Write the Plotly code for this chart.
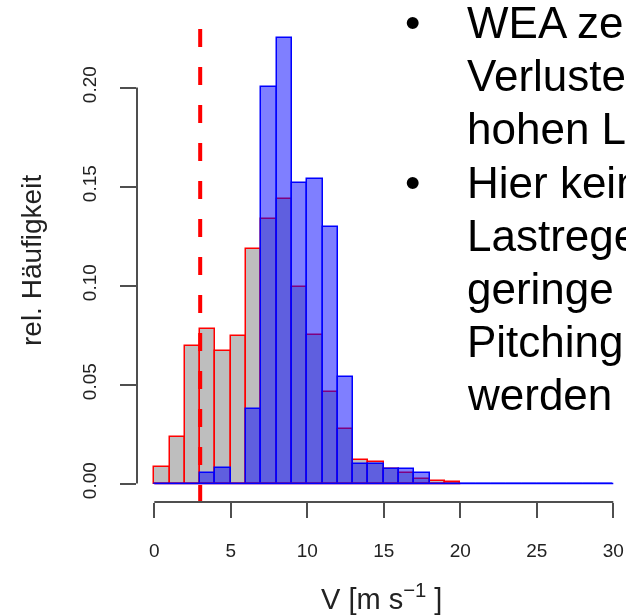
import plotly.graph_objects as go

# ---- data -------------------------------------------------------------
# relative frequencies per 1 m/s wind-speed bin
bin_edges_gray = list(range(0, 21))
freq_gray = [0.0085, 0.0233, 0.0694, 0.0782, 0.0671, 0.0745, 0.1183, 0.1334,
             0.1437, 0.0994, 0.0750, 0.0462, 0.0277, 0.0119, 0.0109, 0.0074,
             0.0055, 0.0024, 0.0011, 0.0008]

bin_edges_blue = list(range(0, 31))
freq_blue = [0.0, 0.0, 0.0, 0.0055, 0.0077, 0.0, 0.0374, 0.2004, 0.2248,
             0.1516, 0.1536, 0.1297, 0.0539, 0.0098, 0.0098, 0.0075, 0.0075,
             0.0052, 0.0, 0.0, 0.0, 0.0, 0.0, 0.0, 0.0, 0.0, 0.0, 0.0, 0.0, 0.0]

cut_in_speed = 3.0  # dashed reference line

x_ticks = [0, 5, 10, 15, 20, 25, 30]
y_ticks = [0.00, 0.05, 0.10, 0.15, 0.20]
y_tick_labels = ["0.00", "0.05", "0.10", "0.15", "0.20"]

x_title = "V [m s<sup>\u22121</sup> ]"
y_title = "rel. H\u00e4ufigkeit"

text_lines = ["WEA zeigt", "Verlusten", "hohen Last", "Hier kein",
              "Lastregelung", "geringe", "Pitching", "werden"]
bullet_rows = [0, 3]

# ---- layout geometry --------------------------------------------------
W, H = 626, 615
ML, MR, MT, MB = 137, 0, 20, 113
PW, PH = W - ML - MR, H - MT - MB
x_range = [-1.13, 30.83]
y_range = [-0.00934, 0.2341]

FONT = "Liberation Sans, Arial, Helvetica, sans-serif"
TEXT_SIZE = 44
LINE_STEP = 53.2      # px between text baselines
FIRST_MID = 22.5      # px, vertical middle of first text line


def px_x(px):
    return (px - ML) / PW


def px_y(py):
    return (H - MB - py) / PH


def centers(edges):
    return [(a + b) / 2 for a, b in zip(edges[:-1], edges[1:])]


def widths(edges):
    return [b - a for a, b in zip(edges[:-1], edges[1:])]


fig = go.Figure()

fig.add_trace(go.Bar(
    x=centers(bin_edges_gray), y=freq_gray, width=widths(bin_edges_gray),
    marker=dict(color="#BEBEBE", line=dict(color="#FF0000", width=1.5)),
    showlegend=False, hoverinfo="skip",
))
fig.add_trace(go.Bar(
    x=centers(bin_edges_blue), y=freq_blue, width=widths(bin_edges_blue),
    marker=dict(color="rgba(0,0,255,0.5)", line=dict(color="#0000FF", width=1.5)),
    showlegend=False, hoverinfo="skip",
))
# bottom outline of each histogram (also covers empty bins)
fig.add_trace(go.Scatter(
    x=[bin_edges_gray[0], bin_edges_gray[-1]], y=[0, 0], mode="lines",
    line=dict(color="#FF0000", width=1.5), showlegend=False, hoverinfo="skip",
))
fig.add_trace(go.Scatter(
    x=[bin_edges_blue[0], bin_edges_blue[-1]], y=[0, 0], mode="lines",
    line=dict(color="#0000FF", width=1.5), showlegend=False, hoverinfo="skip",
))

shapes = [
    # dashed reference line
    dict(type="line", xref="x", yref="paper", x0=cut_in_speed, x1=cut_in_speed,
         y0=px_y(29), y1=0, line=dict(color="#FF0000", width=4, dash="18px,20px")),
    # R-style axis lines spanning first to last tick
    dict(type="line", xref="paper", yref="y", x0=0, x1=0,
         y0=y_ticks[0], y1=y_ticks[-1], line=dict(color="#505050", width=2)),
    dict(type="line", xref="x", yref="paper", x0=x_ticks[0], x1=x_ticks[-1],
         y0=0, y1=0, line=dict(color="#505050", width=2)),
]

annotations = [
    dict(text=y_title, xref="paper", yref="paper", x=px_x(31), y=0.5,
         textangle=-90, showarrow=False, xanchor="center", yanchor="middle",
         font=dict(family=FONT, size=28, color="#222")),
    dict(text=x_title, xref="paper", yref="paper", x=0.5, y=px_y(597),
         showarrow=False, xanchor="center", yanchor="middle",
         font=dict(family=FONT, size=29, color="#222")),
]

# bullet text block on the right
for i, line in enumerate(text_lines):
    mid = FIRST_MID + i * LINE_STEP
    annotations.append(dict(
        text=line, xref="paper", yref="paper", x=px_x(465), y=px_y(mid),
        xanchor="left", yanchor="middle", showarrow=False,
        font=dict(family=FONT, size=TEXT_SIZE, color="#000")))
    if i in bullet_rows:
        annotations.append(dict(
            text="\u2022", xref="paper", yref="paper", x=px_x(403), y=px_y(mid),
            xanchor="left", yanchor="middle", showarrow=False,
            font=dict(family=FONT, size=TEXT_SIZE, color="#000")))

fig.update_layout(
    width=W, height=H,
    margin=dict(l=ML, r=MR, t=MT, b=MB, autoexpand=False),
    paper_bgcolor="white", plot_bgcolor="white",
    barmode="overlay", bargap=0,
    shapes=shapes, annotations=annotations,
    font=dict(family=FONT, color="#222"),
    xaxis=dict(range=x_range, tickmode="array", tickvals=x_ticks,
               ticktext=[str(v) for v in x_ticks],
               ticks="outside", ticklen=15, tickwidth=2, tickcolor="#505050",
               showgrid=False, zeroline=False, showline=False,
               tickfont=dict(family=FONT, size=19, color="#222"),
               ticklabelstandoff=16, fixedrange=True),
    yaxis=dict(range=y_range, tickmode="array", tickvals=y_ticks,
               ticktext=y_tick_labels, tickangle=-90,
               ticks="outside", ticklen=16, tickwidth=2, tickcolor="#505050",
               showgrid=False, zeroline=False, showline=False,
               tickfont=dict(family=FONT, size=19, color="#222"),
               ticklabelstandoff=16, fixedrange=True),
)

# the histogram panel is a soft, slightly blurred graphic; the slide text is crisp
soften = """
var gd = document.getElementById('{plot_id}');
var svg = gd.querySelector('svg.main-svg');
var ns = 'http://www.w3.org/2000/svg';
var defs = svg.querySelector('defs') || svg.insertBefore(document.createElementNS(ns, 'defs'), svg.firstChild);
var f = document.createElementNS(ns, 'filter');
f.setAttribute('id', 'soft-panel');
f.setAttribute('filterUnits', 'userSpaceOnUse');
f.setAttribute('x', '0'); f.setAttribute('y', '0');
f.setAttribute('width', '626'); f.setAttribute('height', '615');
var b = document.createElementNS(ns, 'feGaussianBlur');
b.setAttribute('stdDeviation', '0.6');
f.appendChild(b);
defs.appendChild(f);
gd.querySelectorAll('.cartesianlayer, .layer-above').forEach(function (el) {
    el.setAttribute('filter', 'url(#soft-panel)');
});
var ann = gd.querySelectorAll('.annotation');
for (var i = 0; i < 2 && i < ann.length; i++) ann[i].setAttribute('filter', 'url(#soft-panel)');
"""

fig.write_html("out.html", config={"displayModeBar": False}, post_script=soften)
